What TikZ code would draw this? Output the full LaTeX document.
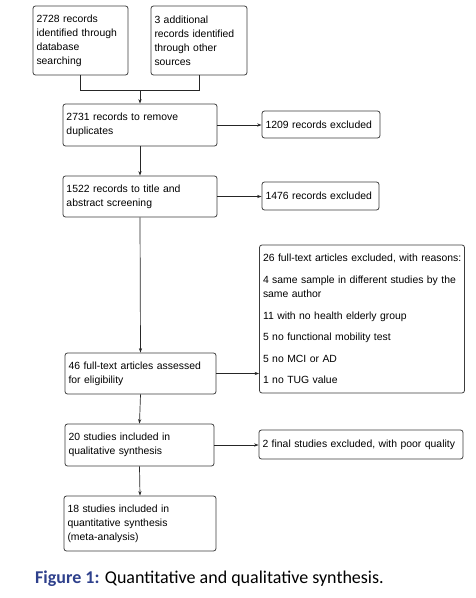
\documentclass[tikz,border=0pt]{standalone}
\usepackage{fontspec}
\setmainfont{Liberation Sans}
\newfontfamily\capfont{Carlito}
\usetikzlibrary{arrows.meta}
\definecolor{capblue}{RGB}{46,64,140}
\definecolor{boxline}{RGB}{60,60,60}
\begin{document}
\begin{tikzpicture}[x=1pt,y=-1pt,
  box/.style={draw=boxline, line width=0.8pt, rounded corners=2.5pt, align=left,
    inner xsep=3.5pt, inner ysep=2pt, font=\fontsize{10.4}{14}\selectfont},
  conn/.style={draw=black!85, line width=0.7pt},
  arr/.style={conn, -{Stealth[length=4.5pt,width=3.2pt]}}]
\useasboundingbox (0,0) rectangle (475,598);
\node[box, text width=88pt, minimum height=69pt] (A) at (80.5,40.5)
  {2728 records\\identified through\\database\\searching};
\node[box, text width=89pt, minimum height=69pt] (B) at (199,40.5)
  {3 additional\\records identified\\through other\\sources};
\node[box, text width=147pt, minimum height=42pt] (C) at (140,125)
  {2731 records to remove\\duplicates};
\node[box, text width=111pt, minimum height=27pt] (C2) at (321,124.5)
  {1209 records excluded};
\node[box, text width=147pt, minimum height=41pt] (D) at (140,196.5)
  {1522 records to title and\\abstract screening};
\node[box, text width=110pt, minimum height=28pt] (D2) at (320.5,196)
  {1476 records excluded};
\node[box, text width=198pt, minimum height=148pt, font=\fontsize{10.4}{14.5}\selectfont] (E) at (362,319)
  {\mbox{26 full-text articles excluded, with reasons:}\\[7pt]
   \mbox{4 same sample in different studies by the}\\same author\\[7pt]
   11 with no health elderly group\\[7pt]
   5 no functional mobility test\\[7pt]
   5 no MCI or AD\\[7pt]
   1 no TUG value};
\node[box, text width=144pt, minimum height=41pt] (F) at (140.5,373.5)
  {46 full-text articles assessed\\for eligibility};
\node[box, text width=142pt, minimum height=42pt] (G) at (139.5,445)
  {20 studies included in\\qualitative synthesis};
\node[box, text width=197pt, minimum height=29pt] (G2) at (361,444.5)
  {\mbox{2 final studies excluded, with poor quality}};
\node[box, text width=145pt, minimum height=55pt] (H) at (140,523.5)
  {18 studies included in\\quantitative synthesis\\(meta-analysis)};
\coordinate (j) at (C.north |- 0,90);
\draw[conn] (A.south) |- (B.south |- j) -- (B.south);
\draw[arr] (j) -- (C.north);
\draw[arr] (C.south) -- (D.north);
\draw[arr] (D.south) -- (F.north);
\draw[arr] (F.south) -- (G.north);
\draw[arr] (G.south) -- (H.north);
\draw[arr] (C.east) -- (C.east -| C2.west);
\draw[arr] (D.east) -- (D.east -| D2.west);
\draw[arr] (F.east) -- (F.east -| E.west);
\draw[arr] (G.east) -- (G.east -| G2.west);
\node[anchor=west, inner sep=0pt, font=\capfont\fontsize{18}{21}\selectfont] (cap) at (35,579)
  {\textcolor{capblue}{\bfseries Figure 1:} Quantitative and qualitative synthesis.};
\end{tikzpicture}
\end{document}
